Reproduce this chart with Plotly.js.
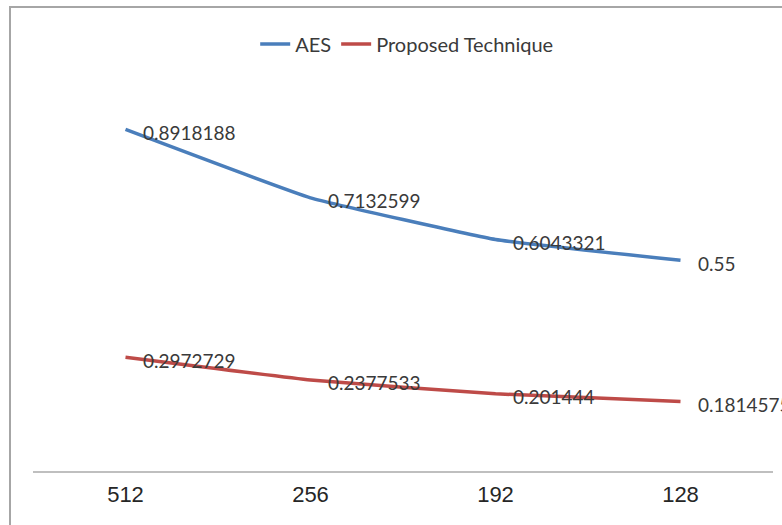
<!DOCTYPE html>
<html>
<head>
<meta charset="utf-8">
<script src="https://cdn.plot.ly/plotly-3.0.1.min.js"></script>
<style>
  html, body { margin: 0; padding: 0; background: #fff; }
  #wrap { position: relative; width: 782px; height: 525px; overflow: hidden; }
  #frame { position: absolute; left: 9px; top: 6px; width: 800px; height: 600px;
           border-top: 2px solid #a6a6a6; border-left: 2px solid #a6a6a6; pointer-events: none; }
  #chart { position: absolute; left: 0; top: 0; width: 782px; height: 525px; }
</style>
</head>
<body>
<div id="wrap">
  <div id="chart"></div>
  <div id="frame"></div>
</div>
<script>
var categories = ["512", "256", "192", "128"];
var aesValues = [0.8918188, 0.7132599, 0.6043321, 0.55];
var proposedValues = [0.2972729, 0.2377533, 0.201444, 0.1814575];
var aesLabels = ["0.8918188", "0.7132599", "0.6043321", "0.55"];
var proposedLabels = ["0.2972729", "0.2377533", "0.201444", "0.1814575"];

var labelFont = { family: "Lato, 'Noto Sans', sans-serif", size: 19, color: "#3a3a3a" };

var traces = [
  { x: categories, y: aesValues, name: "AES", type: "scatter", mode: "lines",
    line: { color: "#4a7ebb", width: 3.5, shape: "spline", smoothing: 0.3 } },
  { x: categories, y: proposedValues, name: "Proposed Technique", type: "scatter", mode: "lines",
    line: { color: "#be4b48", width: 3.5, shape: "spline", smoothing: 0.3 } }
];

var annotations = [];
function addLabels(vals, labels) {
  for (var i = 0; i < vals.length; i++) {
    annotations.push({ x: i, y: vals[i], xref: "x", yref: "y", text: labels[i],
      showarrow: false, xanchor: "left", yanchor: "middle", xshift: 15, yshift: -3,
      font: labelFont });
  }
}
addLabels(aesValues, aesLabels);
addLabels(proposedValues, proposedLabels);

var layout = {
  width: 782, height: 525,
  margin: { l: 33, r: 9, t: 88, b: 54, pad: 0 },
  paper_bgcolor: "#fff", plot_bgcolor: "#fff",
  showlegend: true,
  legend: { orientation: "h", x: 0.505, xanchor: "center", y: 1.115, yanchor: "middle",
    font: { family: "Lato, 'Noto Sans', sans-serif", size: 20, color: "#3a3a3a" },
    itemwidth: 30, tracegroupgap: 0, bgcolor: "rgba(0,0,0,0)" },
  xaxis: { type: "category", range: [-0.5, 3.5], showline: true, linecolor: "#bfbfbf", linewidth: 1.5,
    showgrid: false, zeroline: false, ticks: "", fixedrange: true, ticklabelstandoff: 3,
    tickfont: { family: "'Liberation Sans', Arial, sans-serif", size: 22, color: "#262626" } },
  yaxis: { range: [0, 1], visible: false, showgrid: false, zeroline: false, fixedrange: true },
  annotations: annotations
};

Plotly.newPlot("chart", traces, layout, { displayModeBar: false, staticPlot: true });
</script>
</body>
</html>
